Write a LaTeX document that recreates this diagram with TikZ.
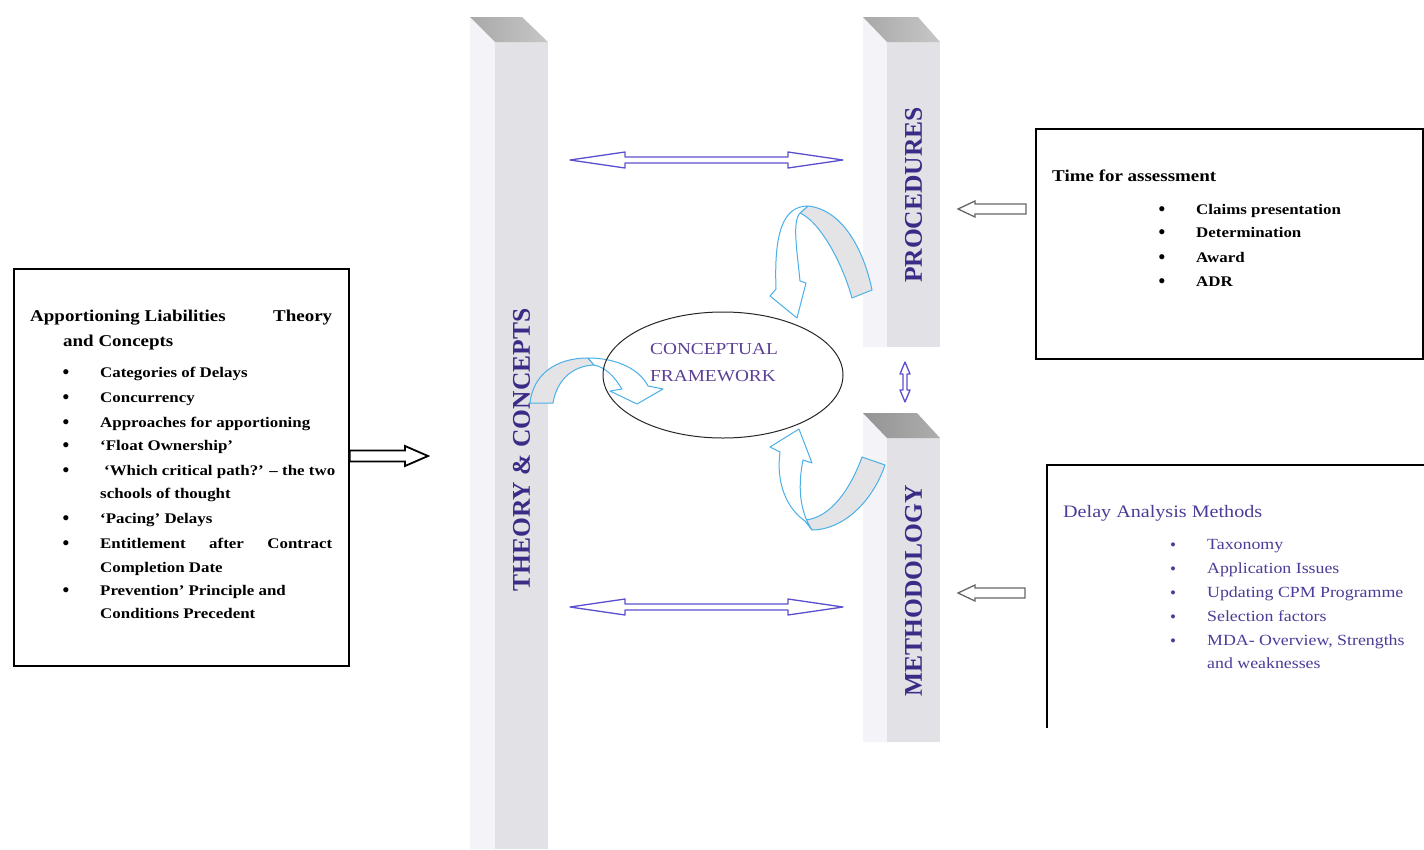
\documentclass[tikz,border=0pt]{standalone}
\usepackage{fontspec}
\setmainfont{Liberation Serif}
\newfontfamily\txtfont[FakeStretch=1.15]{Liberation Serif}
\usetikzlibrary{calc,shapes.geometric}

\definecolor{pillarink}{HTML}{3A2B87}
\definecolor{violetline}{HTML}{5A4FCF}
\definecolor{skyline}{HTML}{4AB0E8}
\definecolor{bandgray}{HTML}{E4E4E6}
\definecolor{purpletext}{HTML}{4B3C98}
\definecolor{ellipsetext}{HTML}{5B4196}
\definecolor{faceleft}{HTML}{F4F4F8}
\definecolor{facefront}{HTML}{E2E2E6}

% hollow arrow with a head at both ends: style, end A, end B, head length, head half-width, shaft half-width
\newcommand\hollowtwohead[6]{%
  \draw[#1] (#2) -- ($(#2)!#4!(#3)!#5!90:(#3)$) -- ($(#2)!#4!(#3)!#6!90:(#3)$)
    -- ($(#3)!#4!(#2)!#6!-90:(#2)$) -- ($(#3)!#4!(#2)!#5!-90:(#2)$) -- (#3)
    -- ($(#3)!#4!(#2)!#5!90:(#2)$) -- ($(#3)!#4!(#2)!#6!90:(#2)$)
    -- ($(#2)!#4!(#3)!#6!-90:(#3)$) -- ($(#2)!#4!(#3)!#5!-90:(#3)$) -- cycle;}
% hollow arrow with one head: style, tail, tip, head length, head half-width, shaft half-width
\newcommand\hollowonehead[6]{%
  \draw[#1] (#3) -- ($(#3)!#4!(#2)!#5!90:(#2)$) -- ($(#3)!#4!(#2)!#6!90:(#2)$)
    -- ($(#2)!#6!-90:(#3)$) -- ($(#2)!#6!90:(#3)$)
    -- ($(#3)!#4!(#2)!#6!-90:(#2)$) -- ($(#3)!#4!(#2)!#5!-90:(#2)$) -- cycle;}

\begin{document}
\begin{tikzpicture}[x=1pt,y=-1pt,
  pillarface/.style={fill=facefront, inner sep=0, anchor=north west},
  pillarlabel/.style={rotate=90, text=pillarink, inner sep=0,
    font=\fontsize{25.5}{30}\selectfont\bfseries},
  frame/.style={draw=black, line width=1.8pt, inner sep=0, anchor=north west},
  violetarrow/.style={draw=violetline, fill=white, line width=1.3pt, line join=round},
  grayarrow/.style={draw=black!60, fill=white, line width=1.3pt},
  blackarrow/.style={draw=black, fill=white, line width=1.8pt},
  ribbonback/.style={draw=skyline, fill=bandgray, line width=1pt, line join=round},
  ribbonfront/.style={draw=skyline, fill=white, line width=1pt, line join=round},
  lhead/.style={anchor=base west, inner sep=0, font=\txtfont\bfseries\fontsize{16.5}{19}\selectfont},
  litem/.style={anchor=base west, inner sep=0, font=\txtfont\bfseries\fontsize{14.7}{17}\selectfont},
  bul/.style={anchor=base, inner sep=0, font=\bfseries\fontsize{19}{20}\selectfont},
  phead/.style={anchor=base west, inner sep=0, text=purpletext, font=\txtfont\fontsize{17.5}{20}\selectfont},
  pitem/.style={anchor=base west, inner sep=0, text=purpletext, font=\txtfont\fontsize{15.5}{18}\selectfont},
  pbul/.style={anchor=base, inner sep=0, text=purpletext, font=\fontsize{17}{20}\selectfont}
]
\fill[white] (0,0) rectangle (1424,849);
\useasboundingbox (0,0) rectangle (1424,849);

% ---------- the three pillars ----------
\fill[faceleft] (470,17) -- (495,42) -- (495,849) -- (470,849) -- cycle;
\node[pillarface, minimum width=53pt, minimum height=807pt] (theory) at (495,42) {};
\shade[left color=black!34, right color=black!22] (470,17) -- (522,17) -- (548,42) -- (495,42) -- cycle;
\node[pillarlabel] (theorylabel) at (521.5,450) {THEORY \& CONCEPTS};

\fill[faceleft] (863,17) -- (887,42) -- (887,347) -- (863,347) -- cycle;
\node[pillarface, minimum width=53pt, minimum height=305pt] (proc) at (887,42) {};
\shade[left color=black!34, right color=black!22] (863,17) -- (918,17) -- (940,42) -- (887,42) -- cycle;
\node[pillarlabel] (proclabel) at (913.5,195) {PROCEDURES};

\fill[faceleft] (863,413) -- (887,438) -- (887,742) -- (863,742) -- cycle;
\node[pillarface, minimum width=53pt, minimum height=304pt] (meth) at (887,438) {};
\shade[left color=black!42, right color=black!32] (863,413) -- (917,413) -- (940,438) -- (887,438) -- cycle;
\node[pillarlabel] (methlabel) at (913.5,591) {METHODOLOGY};

% ---------- left box: theory and concepts ----------
\node[frame, minimum width=335pt, minimum height=397pt] (theorybox) at (13,268) {};
\node[lhead] (lh1) at (30,321) {\hbox to 302pt{Apportioning Liabilities\hfill Theory}};
\node[lhead] (lh2) at (63,346) {and Concepts};
\node[bul] (lb1) at (66,378) {•}; \node[litem] (li1) at (100,377) {Categories of Delays};
\node[bul] (lb2) at (66,403) {•}; \node[litem] (li2) at (100,402) {Concurrency};
\node[bul] (lb3) at (66,428) {•}; \node[litem] (li3) at (100,427) {Approaches for apportioning};
\node[bul] (lb4) at (66,451) {•}; \node[litem] (li4) at (100,450) {‘Float Ownership’};
\node[bul] (lb5) at (66,476) {•}; \node[litem] (li5) at (104,475) {‘Which critical path?’ – the two};
\node[litem] (li5b) at (100,498) {schools of thought};
\node[bul] (lb6) at (66,524) {•}; \node[litem] (li6) at (100,523) {‘Pacing’ Delays};
\node[bul] (lb7) at (66,549) {•}; \node[litem] (li7) at (100,548) {\hbox to 232pt{Entitlement\hfill after\hfill Contract}};
\node[litem] (li7b) at (100,572) {Completion Date};
\node[bul] (lb8) at (66,596) {•}; \node[litem] (li8) at (100,595) {Prevention’ Principle and};
\node[litem] (li8b) at (100,618) {Conditions Precedent};

% ---------- top right box: procedures ----------
\node[frame, minimum width=387pt, minimum height=230pt] (procbox) at (1035,128) {};
\node[lhead] (rh) at (1052,181) {Time for assessment};
\node[bul] (rb1) at (1162,215) {•}; \node[litem] (ri1) at (1196,214) {Claims presentation};
\node[bul] (rb2) at (1162,238) {•}; \node[litem] (ri2) at (1196,237) {Determination};
\node[bul] (rb3) at (1162,263) {•}; \node[litem] (ri3) at (1196,262) {Award};
\node[bul] (rb4) at (1162,287) {•}; \node[litem] (ri4) at (1196,286) {ADR};

% ---------- bottom right box: methodology ----------
\coordinate (methboxcorner) at (1047,465);
\draw[line width=1.6pt] (methboxcorner |- 0,728) -- (methboxcorner) -- (1424,465);
\node[phead] (mh) at (1063,517) {Delay Analysis Methods};
\node[pbul] (mb1) at (1173,550) {•}; \node[pitem] (mi1) at (1207,549) {Taxonomy};
\node[pbul] (mb2) at (1173,574) {•}; \node[pitem] (mi2) at (1207,573) {Application Issues};
\node[pbul] (mb3) at (1173,598) {•}; \node[pitem] (mi3) at (1207,597) {Updating CPM Programme};
\node[pbul] (mb4) at (1173,622) {•}; \node[pitem] (mi4) at (1207,621) {Selection factors};
\node[pbul] (mb5) at (1173,646) {•}; \node[pitem] (mi5) at (1207,645) {MDA- Overview, Strengths};
\node[pitem] (mi5b) at (1207,668) {and weaknesses};

% ---------- straight hollow arrows ----------
\coordinate (topL) at (570,160);  \coordinate (topR) at (843,160);
\coordinate (botL) at (570,607);  \coordinate (botR) at (843,607);
\coordinate (midT) at (905,362);  \coordinate (midB) at (905,402);
\hollowtwohead{violetarrow}{topL}{topR}{55pt}{8pt}{3pt}
\hollowtwohead{violetarrow}{botL}{botR}{55pt}{8pt}{3pt}
\hollowtwohead{violetarrow}{midT}{midB}{12pt}{5pt}{2pt}

\coordinate (procin) at (958,209);  \coordinate (procfrom) at (1026,209);
\coordinate (methin) at (958,593);  \coordinate (methfrom) at (1025,593);
\hollowonehead{grayarrow}{procfrom}{procin}{17pt}{8pt}{5pt}
\hollowonehead{grayarrow}{methfrom}{methin}{17pt}{8pt}{5pt}

\coordinate (theoryout) at (theorybox.east |- 0,456);
\coordinate (theoryin) at (428,456);
\hollowonehead{blackarrow}{theoryout}{theoryin}{23pt}{10pt}{5.5pt}

% ---------- curved ribbon arrows round the framework ----------
% from procedures
\draw[ribbonback] (872,290) .. controls (865,255) and (845,210) .. (808,206)
  -- (800,213) .. controls (820,222) and (842,262) .. (852,298) -- cycle;
\draw[ribbonfront] (808,206) .. controls (782,206) and (774,235) .. (776,289)
  -- (770,296) -- (797,318) -- (806,283) -- (800,281)
  .. controls (797,250) and (792,222) .. (800,213) -- cycle;
% from methodology
\draw[ribbonback] (885,465) .. controls (872,503) and (842,530) .. (812,530)
  -- (805,520) .. controls (830,518) and (850,490) .. (862,457) -- cycle;
\draw[ribbonfront] (805,521) .. controls (786,508) and (776,482) .. (780,452)
  -- (770,447) -- (799,429) -- (812,463) -- (803,460)
  .. controls (798,485) and (799,510) .. (812,530) -- cycle;
% from theory
\draw[ribbonback] (530,403) .. controls (533,375) and (555,358) .. (588,358)
  -- (594,365) .. controls (572,366) and (557,380) .. (553,403) -- cycle;
\draw[ribbonfront] (588,358) .. controls (618,358) and (640,370) .. (648,386)
  -- (663,389) -- (637,404) -- (610,391) -- (622,389)
  .. controls (614,376) and (605,367) .. (594,365) -- cycle;

% ---------- conceptual framework ----------
\node[draw=black!85, line width=1pt, ellipse, minimum width=240pt, minimum height=126pt, inner sep=0] (cf) at (723,375) {};
\node[anchor=base west, inner sep=0, text=ellipsetext, font=\txtfont\fontsize{16.8}{20}\selectfont] (cf1) at (650,354) {CONCEPTUAL};
\node[anchor=base west, inner sep=0, text=ellipsetext, font=\txtfont\fontsize{16.8}{20}\selectfont] (cf2) at (650,381) {FRAMEWORK};
\end{tikzpicture}
\end{document}
